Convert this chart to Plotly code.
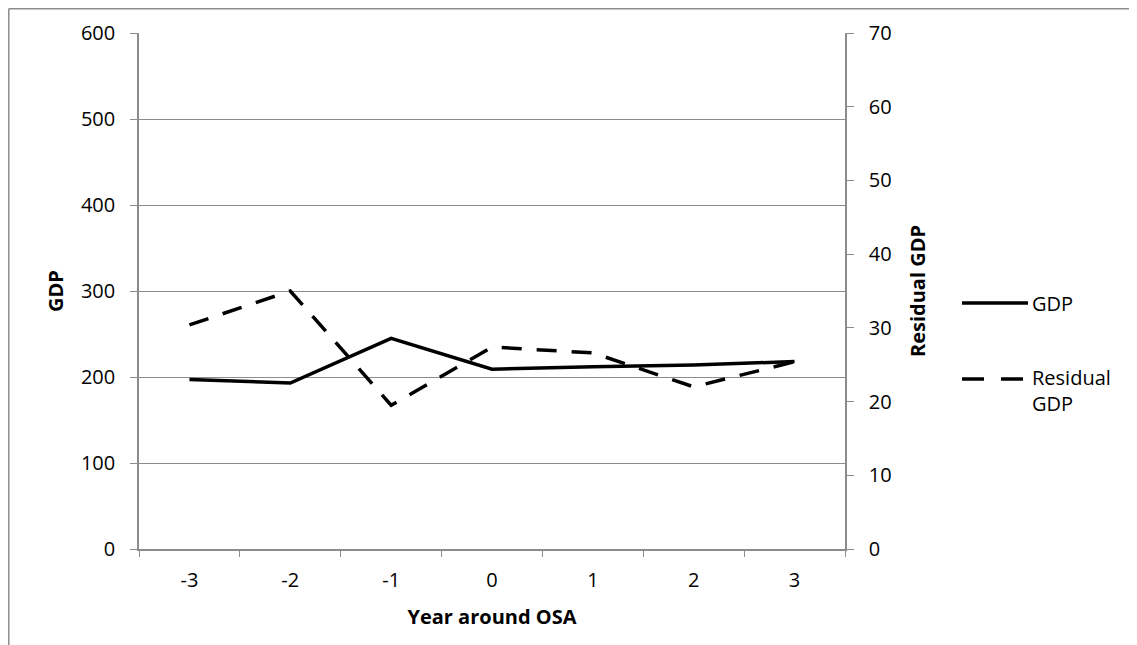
import plotly.graph_objects as go

years = ["-3", "-2", "-1", "0", "1", "2", "3"]
gdp = [197, 193, 245, 209, 212, 214, 218]
residual_gdp = [30.4, 35.0, 19.5, 27.4, 26.6, 22.0, 25.4]

W, H = 1137, 645
OFF = 8  # page body margin in browser
# plot-area edges in screen pixels (as measured on the reference)
L, R, T, B = 139, 845, 33, 549
FONT = "Open Sans"
FS = 20
GREY = "#8c8c8c"

def px(x):
    return (x - L) / (R - L)

def py(y):
    return (B - y) / (B - T)

fig = go.Figure()
fig.add_trace(go.Scatter(x=years, y=gdp, name="GDP", mode="lines",
                         line=dict(color="black", width=3.5), showlegend=False))
fig.add_trace(go.Scatter(x=years, y=residual_gdp, name="Residual GDP", mode="lines",
                         yaxis="y2", line=dict(color="black", width=3.5, dash="20px,15px"),
                         showlegend=False))

shapes = [
    # outer chart frame (cropped at right/bottom)
    dict(type="line", xref="paper", yref="paper", x0=px(OFF + 0.8), x1=px(OFF + 0.8),
         y0=py(OFF + 0.8), y1=py(700), line=dict(color=GREY, width=1.5)),
    dict(type="line", xref="paper", yref="paper", x0=px(OFF + 0.8), x1=px(1200),
         y0=py(OFF + 0.8), y1=py(OFF + 0.8), line=dict(color=GREY, width=1.5)),
    # legend symbols
    dict(type="line", xref="paper", yref="paper", x0=px(962), x1=px(1028), y0=py(303), y1=py(303),
         line=dict(color="black", width=3.5)),
    dict(type="line", xref="paper", yref="paper", x0=px(962), x1=px(1028), y0=py(379), y1=py(379),
         line=dict(color="black", width=3.5, dash="22px,17px")),
]
annotations = [
    dict(xref="paper", yref="paper", x=px(1030), y=py(303), text="GDP", showarrow=False,
         xanchor="left", yanchor="middle", font=dict(family=FONT, size=FS, color="black")),
    dict(xref="paper", yref="paper", x=px(1030), y=py(390), text="Residual<br>GDP", showarrow=False,
         xanchor="left", yanchor="middle", align="left", font=dict(family=FONT, size=FS, color="black")),
]

fig.update_layout(
    width=W, height=H,
    margin=dict(l=L - OFF, r=W - (R - OFF), t=T - OFF, b=H - (B - OFF), autoexpand=False),
    paper_bgcolor="white", plot_bgcolor="white",
    font=dict(family=FONT, size=FS, color="black"),
    shapes=shapes, annotations=annotations,
    xaxis=dict(type="category", range=[-0.5, 6.5], tickson="boundaries", ticks="outside", ticklen=6,
               tickcolor=GREY, showline=True, linecolor=GREY, linewidth=1.5,
               showgrid=False, ticklabelstandoff=12,
               title=dict(text="<b>Year around OSA</b>", standoff=18,
                          font=dict(family=FONT, size=FS))),
    yaxis=dict(range=[0, 600], dtick=100, ticks="outside", ticklen=7, tickcolor=GREY,
               showline=True, linecolor=GREY, linewidth=1.5, showgrid=True,
               gridcolor=GREY, gridwidth=1, zeroline=False, ticklabelstandoff=11,
               title=dict(text="<b>GDP</b>", standoff=12, font=dict(family=FONT, size=FS))),
    yaxis2=dict(range=[0, 70], dtick=10, overlaying="y", side="right", ticks="outside",
                ticklen=7, tickcolor=GREY, showline=True, linecolor=GREY, linewidth=1.5,
                showgrid=False, zeroline=False, ticklabelstandoff=11,
                title=dict(text="<b>Residual GDP</b>", standoff=20,
                           font=dict(family=FONT, size=FS))),
)

fig.write_html("out.html")
